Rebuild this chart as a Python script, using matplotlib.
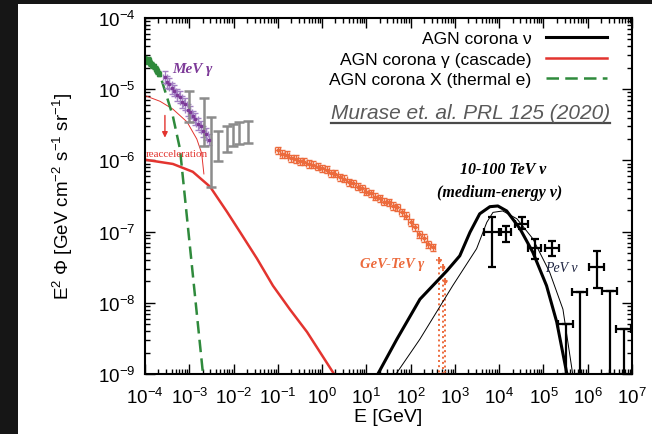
import numpy as np
import matplotlib
matplotlib.use('Agg')
import matplotlib.pyplot as plt
from matplotlib.ticker import LogLocator, NullFormatter
from matplotlib.patches import Rectangle
from matplotlib.lines import Line2D

plt.rcParams['font.family'] = ['Liberation Sans', 'DejaVu Sans']
plt.rcParams['mathtext.fontset'] = 'custom'
plt.rcParams['mathtext.rm'] = 'Liberation Sans'
plt.rcParams['mathtext.it'] = 'Liberation Sans:italic'
plt.rcParams['mathtext.bf'] = 'Liberation Sans:bold'

# ---- data (log10 E [GeV], log10 E^2 Phi) ----
# model curves
nu_logE = [1.26, 1.69, 2.21, 2.82, 3.11, 3.34, 3.56, 3.79, 3.97, 4.17, 4.47, 4.76, 5.07, 5.30, 5.53]
nu_logF = [-9.0, -8.51, -7.95, -7.55, -7.34, -7.01, -6.75, -6.65, -6.64, -6.71, -6.96, -7.29, -7.76, -8.27, -9.0]

nu2_logE = [1.67, 2.21, 2.95, 3.49, 3.72, 3.86, 4.08, 4.40, 4.76, 5.14, 5.44, 5.66]
nu2_logF = [-9.0, -8.51, -7.76, -7.24, -6.87, -6.73, -6.71, -6.82, -7.10, -7.57, -8.09, -9.0]

gam_logE = [-4.0, -3.37, -2.92, -2.53, -2.15, -1.86, -1.47, -1.11, -0.73, -0.34, 0.27]
gam_logF = [-5.99, -6.05, -6.16, -6.37, -6.72, -7.0, -7.38, -7.76, -8.09, -8.41, -9.0]

reac_logE = [-4.0, -3.66, -3.37, -3.05, -2.83, -2.72, -2.67]
reac_logF = [-5.09, -5.17, -5.28, -5.46, -5.70, -5.90, -6.19]

xr_logE = [-3.62, -3.37, -3.21, -2.98, -2.69]
xr_logF = [-4.88, -5.38, -5.84, -7.24, -9.0]

# data points
green_logE = [-4.0, -3.96, -3.92, -3.88, -3.84, -3.80, -3.76, -3.72, -3.68]
green_logF = [-4.57, -4.60, -4.59, -4.63, -4.66, -4.68, -4.72, -4.74, -4.78]

mev_logE = [-3.55, -3.50, -3.45, -3.40, -3.34, -3.28, -3.22, -3.16, -3.10, -3.04,
            -2.98, -2.92, -2.86, -2.80, -2.74, -2.68, -2.62, -2.56]
mev_logF = [-4.83, -4.90, -4.92, -4.99, -5.02, -5.08, -5.11, -5.18, -5.21, -5.29,
            -5.32, -5.38, -5.42, -5.49, -5.52, -5.59, -5.63, -5.71]

gray_logE = [-3.01, -2.67, -2.51, -2.35, -2.15, -2.01, -1.88, -1.67]
gray_hi = [-5.03, -5.12, -5.39, -5.59, -5.52, -5.49, -5.46, -5.45]
gray_lo = [-5.46, -5.80, -6.37, -6.01, -5.88, -5.80, -5.77, -5.76]

fermi_logE = [-1.00, -0.90, -0.80, -0.70, -0.60, -0.50, -0.40, -0.30, -0.20, -0.10,
              0.00, 0.10, 0.20, 0.30, 0.40, 0.50, 0.60, 0.70, 0.80, 0.90,
              1.00, 1.10, 1.20, 1.30, 1.40, 1.50, 1.60, 1.70, 1.80, 1.90,
              2.00, 2.10, 2.20, 2.30, 2.40, 2.50]
fermi_logF = [-5.86, -5.91, -5.92, -5.97, -5.98, -6.01, -6.02, -6.05, -6.06, -6.09,
              -6.11, -6.13, -6.18, -6.19, -6.24, -6.26, -6.31, -6.32, -6.37, -6.39,
              -6.44, -6.46, -6.51, -6.53, -6.58, -6.59, -6.64, -6.66, -6.73, -6.78,
              -6.87, -6.94, -7.04, -7.09, -7.18, -7.22]
fermi_ul_logE = [2.64, 2.72, 2.78]
fermi_ul_logF = [-7.40, -7.50, -7.70]

ice_logE = [3.83, 4.15, 4.51, 4.80, 5.19, 6.20]
ice_logF = [-7.01, -7.01, -6.89, -7.23, -7.23, -7.50]
ice_hi = [-6.80, -6.92, -6.80, -7.10, -7.13, -7.27]
ice_lo = [-7.50, -7.15, -6.96, -7.38, -7.34, -7.79]
ice_dlogE = [0.17, 0.12, 0.15, 0.15, 0.15, 0.17]

iceul_logE = [5.50, 5.82, 6.50, 6.81]
iceul_logF = [-8.30, -7.85, -7.83, -8.37]

# ---- figure ----
fig = plt.figure(figsize=(6.52, 4.35), dpi=100, facecolor='#161616')
fig.patches.append(Rectangle((18 / 652, -0.1), 1.1, 1.1 - 5 / 435, transform=fig.transFigure,
                             facecolor='white', edgecolor='none', zorder=-10))
ax = fig.add_axes([145 / 652, 1 - 375 / 435, 487 / 652, 356 / 435])
ax.set_xscale('log')
ax.set_yscale('log')
ax.set_xlim(1e-4, 1e7)
ax.set_ylim(1e-9, 1e-4)

p = lambda a: 10 ** np.asarray(a, dtype=float)

red = '#e3342f'
green = '#2f8a3c'
orange = '#ec6a3c'
purple = '#7d3a98'
gray = '#8c8c8c'

ln_nu, = ax.plot(p(nu_logE), p(nu_logF), color='black', lw=2.2, label='AGN corona ν', zorder=5)
ax.plot(p(nu2_logE), p(nu2_logF), color='black', lw=0.7, zorder=5)
ln_g, = ax.plot(p(gam_logE), p(gam_logF), color=red, lw=1.8, label='AGN corona γ (cascade)')
ax.plot(p(reac_logE), p(reac_logF), color=red, lw=0.7)
ln_x, = ax.plot(p(xr_logE), p(xr_logF), color=green, lw=1.8, dashes=(5, 2.5),
                label='AGN corona X (thermal e)')

# green X-ray points
gE = np.array(green_logE); gF = np.array(green_logF)
ax.errorbar(p(gE), p(gF), xerr=[p(gE) - p(gE - 0.03), p(gE + 0.03) - p(gE)],
            yerr=[p(gF) - p(gF - 0.04), p(gF + 0.04) - p(gF)], fmt='s', ms=2.5,
            color=green, ecolor=green, elinewidth=1.2, capsize=1.5)

# MeV gamma points
mE = np.array(mev_logE); mF = np.array(mev_logF)
ax.errorbar(p(mE), p(mF), xerr=[p(mE) - p(mE - 0.05), p(mE + 0.05) - p(mE)],
            yerr=[p(mF) - p(mF - 0.08), p(mF + 0.08) - p(mF)], fmt='s', ms=2,
            color=purple, ecolor='#a482c4', elinewidth=0.9, capsize=2)

# gray bars
grE = p(gray_logE); ghi = p(gray_hi); glo = p(gray_lo)
gmid = np.sqrt(ghi * glo)
ax.errorbar(grE, gmid, yerr=[gmid - glo, ghi - gmid], fmt='none', ecolor=gray,
            elinewidth=1.8, capsize=3.5, capthick=1.8)

# Fermi points
fE = np.array(fermi_logE); fF = np.array(fermi_logF)
ax.errorbar(p(fE), p(fF), xerr=[p(fE) - p(fE - 0.06), p(fE + 0.06) - p(fE)],
            yerr=[p(fF) - p(fF - 0.05), p(fF + 0.05) - p(fF)], fmt='s', ms=1.8,
            color=orange, ecolor=orange, elinewidth=1.0, capsize=2, capthick=1.0)
for e, f in zip(fermi_ul_logE, fermi_ul_logF):
    ax.plot([p(e - 0.06), p(e + 0.06)], [p(f), p(f)], color=orange, lw=1.2, ls=':')
    ax.plot([p(e), p(e)], [p(f + 0.05), 1e-9], color=orange, lw=1.4, ls=':')
ax.plot(p(fermi_ul_logE), p(fermi_ul_logF), 's', ms=2, color=orange, ls='none')

# IceCube points
iE = np.array(ice_logE); dE = np.array(ice_dlogE)
iF = p(ice_logF)
ax.errorbar(p(iE), iF, xerr=[p(iE) - p(iE - dE), p(iE + dE) - p(iE)],
            yerr=[iF - p(ice_lo), p(ice_hi) - iF], fmt='none', ecolor='black',
            elinewidth=1.6, capsize=3, capthick=1.6, zorder=6)
uE = np.array(iceul_logE); uF = p(iceul_logF)
ax.errorbar(p(uE), uF, xerr=[p(uE) - p(uE - 0.17), p(uE + 0.17) - p(uE)],
            yerr=[uF - 1e-9, np.zeros_like(uF)], fmt='none', ecolor='black',
            elinewidth=1.6, capsize=3, capthick=1.6, zorder=6)

# reacceleration arrow
ax.annotate('', xy=(p(-3.55), p(-5.72)), xytext=(p(-3.55), p(-5.33)),
            arrowprops=dict(arrowstyle='-|>', color=red, lw=1.0, mutation_scale=8))

serif = ['Liberation Serif', 'DejaVu Serif']
ax.text(p(-3.98), p(-5.91), 'reacceleration', color=red, fontsize=8, family=serif, va='center')
ax.text(p(-3.38), p(-4.71), 'MeV γ', color=purple, fontsize=11, family=serif,
        style='italic', weight='bold', va='center')
ax.text(p(4.08), p(-6.12), '10-100 TeV ν', color='black', fontsize=11.5, family=serif,
        style='italic', weight='bold', ha='center', va='center')
ax.text(p(4.0), p(-6.44), '(medium-energy ν)', color='black', fontsize=11.5, family=serif,
        style='italic', weight='bold', ha='center', va='center')
ax.text(p(1.58), p(-7.45), 'GeV-TeV γ', color=orange, fontsize=10.5, family=serif,
        style='italic', weight='bold', ha='center', va='center')
ax.text(p(5.41), p(-7.5), 'PeV ν', color='#1d2340', fontsize=10, family=serif,
        style='italic', ha='center', va='center', zorder=7)

# axes styling
ax.xaxis.set_major_locator(LogLocator(base=10, numticks=30))
ax.yaxis.set_major_locator(LogLocator(base=10, numticks=30))
ax.xaxis.set_minor_locator(LogLocator(base=10, subs=np.arange(2, 10), numticks=30))
ax.yaxis.set_minor_locator(LogLocator(base=10, subs=np.arange(2, 10), numticks=30))
ax.xaxis.set_minor_formatter(NullFormatter())
ax.yaxis.set_minor_formatter(NullFormatter())
ax.tick_params(which='both', direction='in', top=True, right=True, labelsize=13.5, width=1.0)
ax.tick_params(which='major', length=7)
ax.tick_params(which='minor', length=3.5)
ax.tick_params(axis='x', pad=9)
ax.tick_params(axis='y', pad=7)
for s in ax.spines.values():
    s.set_linewidth(1.5)

ax.set_xlabel('E [GeV]', fontsize=14, labelpad=1)
ax.set_ylabel('E$^2$ Φ [GeV cm$^{-2}$ s$^{-1}$ sr$^{-1}$]', fontsize=13.5, labelpad=16)

leg = ax.legend(handles=[ln_nu, ln_g, ln_x], loc='upper right', bbox_to_anchor=(0.9487, 0.963),
                frameon=False, markerfirst=False, fontsize=12.6, handlelength=3.5,
                handletextpad=0.8, labelspacing=0.3, borderpad=0, borderaxespad=0)

# citation with underline
t = fig.text(610 / 652, 1 - 119 / 435, 'Murase et. al. PRL 125 (2020)', color='#5a5a5a',
             fontsize=15, style='italic', ha='right', va='baseline')
fig.canvas.draw()
bb = t.get_window_extent().transformed(fig.transFigure.inverted())
fig.lines.append(Line2D([bb.x0, bb.x1], [1 - 124 / 435] * 2, transform=fig.transFigure,
                        color='#4a4a4a', lw=1.6))

fig.savefig('out.png', dpi=100, facecolor=fig.get_facecolor())
